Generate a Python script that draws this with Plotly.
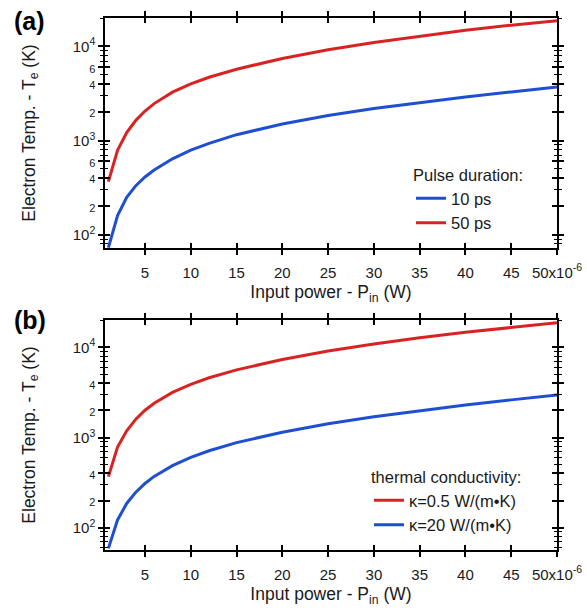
import plotly.graph_objects as go

# Input power (units of 1e-6 W)
power_uW = [1, 2, 3, 4, 5, 6, 8, 10, 12, 15, 20, 25, 30, 35, 40, 45, 50]

# (a) electron temperature (K) for two pulse durations
te_10ps = [73, 160, 249, 332, 410, 486, 640, 790, 935, 1155, 1500, 1850, 2190, 2540, 2900, 3285, 3700]
te_50ps = [366, 790, 1215, 1640, 2060, 2470, 3265, 4000, 4700, 5730, 7440, 9200, 11010, 12900, 14880, 16830, 18750]

# (b) electron temperature (K) for two thermal conductivities
te_k05 = [369, 784, 1188, 1600, 2010, 2406, 3168, 3900, 4608, 5640, 7360, 9125, 10920, 12810, 14720, 16695, 18800]
te_k20 = [59, 122, 186, 248, 310, 371, 488, 603, 715, 879, 1148, 1420, 1704, 1995, 2300, 2619, 2970]

x_tickvals = [5, 10, 15, 20, 25, 30, 35, 40, 45, 50]
x_ticktext = ["5", "10", "15", "20", "25", "30", "35", "40", "45", "50x10<sup>-6</sup>"]

y_tickvals_a = [100, 200, 400, 600, 1000, 2000, 4000, 6000, 10000]
y_ticktext_a = ["10<sup>2</sup>", "2", "4", "6", "10<sup>3</sup>", "2", "4", "6", "10<sup>4</sup>"]
y_tickvals_b = [100, 200, 400, 1000, 2000, 4000, 10000]
y_ticktext_b = ["10<sup>2</sup>", "2", "4", "10<sup>3</sup>", "2", "4", "10<sup>4</sup>"]

minor_vals = [m * 10 ** k for k in range(1, 5) for m in range(2, 10)]

RED = "#d92323"
BLUE = "#1f4fd1"
FONT = "Arial, Liberation Sans, sans-serif"
INK = "#1a1a1a"


def small(labels):
    out = []
    for t in labels:
        if t.startswith("10"):
            out.append(t)
        else:
            out.append("<span style='font-size:11px'>" + t + "</span>")
    return out


fig = go.Figure()

# panel (a)
fig.add_trace(go.Scatter(x=power_uW, y=te_10ps, name="10 ps", mode="lines",
                         line=dict(color=BLUE, width=3),
                         xaxis="x", yaxis="y", legend="legend"))
fig.add_trace(go.Scatter(x=power_uW, y=te_50ps, name="50 ps", mode="lines",
                         line=dict(color=RED, width=3),
                         xaxis="x", yaxis="y", legend="legend"))
# panel (b)
fig.add_trace(go.Scatter(x=power_uW, y=te_k05, name="κ=0.5 W/(m•K)", mode="lines",
                         line=dict(color=RED, width=3),
                         xaxis="x2", yaxis="y2", legend="legend2"))
fig.add_trace(go.Scatter(x=power_uW, y=te_k20, name="κ=20 W/(m•K)", mode="lines",
                         line=dict(color=BLUE, width=3),
                         xaxis="x2", yaxis="y2", legend="legend2"))

# invisible anchors so the inward-tick overlay axes get drawn
for xa, ya, ys in (("x3", "y3", te_50ps), ("x4", "y4", te_k05)):
    fig.add_trace(go.Scatter(x=power_uW[:1], y=ys[:1], mode="markers",
                             marker=dict(opacity=0), showlegend=False,
                             hoverinfo="skip", xaxis=xa, yaxis=ya))

XR = [0.63, 50]
YR_A = [1.859, 4.302]
YR_B = [1.753, 4.304]
DOM_A = [0.5677, 1.0]
DOM_B = [0.0, 0.4323]

tickfont = dict(family=FONT, size=15, color=INK)
titlefont = dict(family=FONT, size=17.5, color=INK)
legfont = dict(family=FONT, size=16.5, color=INK)


def xaxis(anchor, title=None, overlay=None):
    d = dict(range=XR, anchor=anchor, showline=True, linecolor="black", linewidth=1.5,
             mirror="ticks", tickmode="array", tickvals=x_tickvals,
             tickwidth=1.5, tickcolor="black", ticklen=5, showgrid=False,
             zeroline=False, automargin=False)
    if overlay:
        d.update(overlaying=overlay, ticks="inside", showticklabels=False)
    else:
        d.update(ticks="outside", ticktext=x_ticktext, tickfont=tickfont,
                 ticklabelstandoff=5,
                 title=dict(text=title, font=titlefont, standoff=6))
    return d


def yaxis(anchor, rng, dom, vals, text, overlay=None):
    d = dict(type="log", range=rng, anchor=anchor, showline=True, linecolor="black",
             linewidth=1.5, mirror="ticks", tickmode="array", tickvals=vals,
             tickwidth=1.5, tickcolor="black", ticklen=5, showgrid=False,
             zeroline=False, automargin=False,
             minor=dict(tickvals=minor_vals, ticklen=3, tickwidth=1.2, tickcolor="black"))
    if overlay:
        d.update(overlaying=overlay, ticks="inside", showticklabels=False)
        d["minor"]["ticks"] = "inside"
    else:
        d.update(domain=dom, ticks="outside", ticktext=small(text), tickfont=tickfont,
                 title=dict(text="Electron Temp. - T<sub>e</sub> (K)", font=titlefont,
                            standoff=33))
        d["minor"]["ticks"] = "outside"
    return d


fig.update_layout(
    width=587, height=616,
    margin=dict(l=105, r=30, t=18, b=66),
    paper_bgcolor="white", plot_bgcolor="white",
    font=dict(family=FONT, color=INK),
    showlegend=True,
    xaxis=xaxis("y", "Input power - P<sub>in</sub> (W)"),
    yaxis=yaxis("x", YR_A, DOM_A, y_tickvals_a, y_ticktext_a),
    xaxis2=xaxis("y2", "Input power - P<sub>in</sub> (W)"),
    yaxis2=yaxis("x2", YR_B, DOM_B, y_tickvals_b, y_ticktext_b),
    xaxis3=xaxis("y3", overlay="x"),
    yaxis3=yaxis("x3", YR_A, DOM_A, y_tickvals_a, y_ticktext_a, overlay="y"),
    xaxis4=xaxis("y4", overlay="x2"),
    yaxis4=yaxis("x4", YR_B, DOM_B, y_tickvals_b, y_ticktext_b, overlay="y2"),
    legend=dict(x=0.677, y=0.734, xanchor="left", yanchor="top",
                title=dict(text="Pulse duration:", font=legfont),
                font=legfont, bgcolor="rgba(0,0,0,0)", tracegroupgap=0),
    legend2=dict(x=0.584, y=0.166, xanchor="left", yanchor="top",
                 title=dict(text="thermal conductivity:", font=legfont),
                 font=legfont, bgcolor="rgba(0,0,0,0)", tracegroupgap=0),
    annotations=[
        dict(text="<b>(a)</b>", xref="paper", yref="paper", x=-0.206, y=1.025,
             xanchor="left", yanchor="top", showarrow=False,
             font=dict(family=FONT, size=25, color="black")),
        dict(text="<b>(b)</b>", xref="paper", yref="paper", x=-0.206, y=0.462,
             xanchor="left", yanchor="top", showarrow=False,
             font=dict(family=FONT, size=25, color="black")),
    ],
)

fig.write_html("out.html")
